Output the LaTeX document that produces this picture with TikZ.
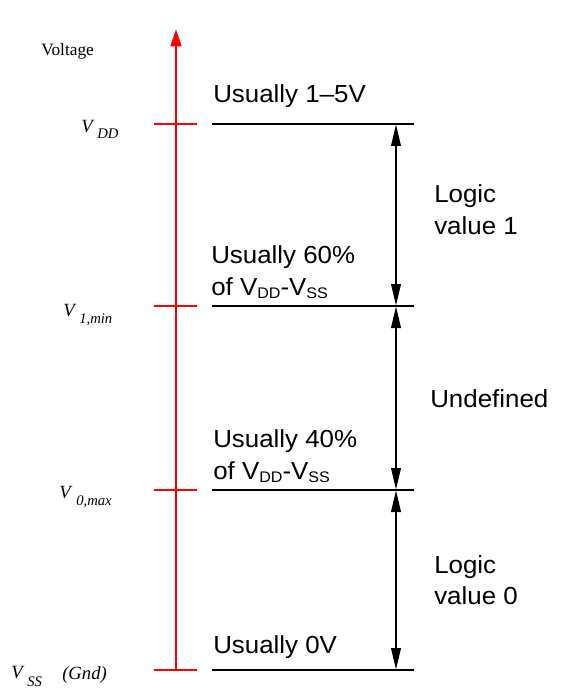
\documentclass[tikz,border=0pt]{standalone}
\usepackage{fontspec}
\setmainfont{Liberation Sans}[FakeStretch=1.05]
\newfontfamily\serifx{Liberation Serif}
\usetikzlibrary{arrows.meta}
\newcommand{\lowsub}[1]{\raisebox{-2.4pt}{\fontsize{11.5}{12}\selectfont #1}}
\begin{document}
\begin{tikzpicture}[x=0.75pt,y=-0.75pt,
 lbl/.style={anchor=base west,inner sep=0pt,font=\fontsize{18.5}{21}\selectfont},
 axl/.style={anchor=base west,inner sep=0pt,font=\serifx\itshape\fontsize{14}{15}\selectfont},
 axs/.style={anchor=base west,inner sep=0pt,font=\serifx\itshape\fontsize{11}{12}\selectfont},
 ttl/.style={anchor=base west,inner sep=0pt,font=\serifx\fontsize{13}{15}\selectfont},
 level/.style={line width=2.1pt},
 ticks/.style={red,line width=2pt},
 axis/.style={red,line width=2pt,-{Triangle[length=13pt,width=8pt]}},
 span/.style={line width=2pt,{Triangle[length=16.5pt,width=7pt]}-{Triangle[length=16.5pt,width=7pt]}}
]
\useasboundingbox (0,0) rectangle (569,695);

% axis
\coordinate (ax0) at (176,670);
\coordinate (ax1) at (176,29);
\draw[axis] (ax0) -- (ax1);
\foreach \n/\y in {a/124,b/306,c/490,d/670}{
  \coordinate (t\n l) at (154,\y);
  \coordinate (t\n r) at (197,\y);
  \draw[ticks] (t\n l) -- (t\n r);
  \coordinate (l\n l) at (212,\y);
  \coordinate (l\n r) at (414,\y);
  \draw[level] (l\n l) -- (l\n r);
  \coordinate (s\n) at (396,\y);
}
\draw[span] (sa) -- (sb);
\draw[span] (sb) -- (sc);
\draw[span] (sc) -- (sd);

% left labels
\node[ttl] (volt) at (41,56) {Voltage};
\node[axl] (vdd) at (81,133) {V};
\node[axs] (vdds) at (97,139) {DD};
\node[axl] (v1) at (63,316) {V};
\node[axs] (v1s) at (79,323) {1,min};
\node[axl] (v0) at (59,498) {V};
\node[axs] (v0s) at (76,505) {0,max};
\node[axl] (vss) at (11,678) {V};
\node[axs] (vsss) at (27,686) {SS};
\node[axl] (gnd) at (62,679) {(Gnd)};

% right labels
\node[lbl] (u15) at (213,103) {Usually 1--5V};
\node[lbl] (u60a) at (211,263) {Usually 60\%};
\node[lbl] (u60b) at (211,295) {of V\lowsub{DD}-V\lowsub{SS}};
\node[lbl] (u40a) at (213,447) {Usually 40\%};
\node[lbl] (u40b) at (213,479) {of V\lowsub{DD}-V\lowsub{SS}};
\node[lbl] (u0) at (213,653) {Usually 0V};
\node[lbl] (lv1a) at (434,203) {Logic};
\node[lbl] (lv1b) at (434,234) {value 1};
\node[lbl] (und) at (430,407) {Undefined};
\node[lbl] (lv0a) at (434,573) {Logic};
\node[lbl] (lv0b) at (434,604) {value 0};
\end{tikzpicture}
\end{document}
